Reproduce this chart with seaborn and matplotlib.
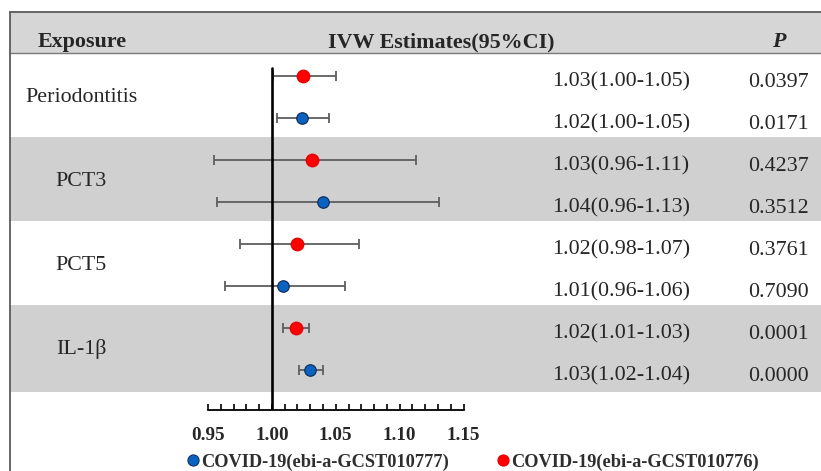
import numpy as np
import pandas as pd
import matplotlib
matplotlib.use("Agg")
import matplotlib.pyplot as plt
from matplotlib.lines import Line2D
from matplotlib.patches import Rectangle
from matplotlib.transforms import blended_transform_factory
import seaborn as sns

# --- data ---
exposures = ["Periodontitis", "PCT3", "PCT5", "IL-1β"]
outcomes = ["COVID-19(ebi-a-GCST010776)", "COVID-19(ebi-a-GCST010777)"]

# red series (GCST010776)
est_776 = [1.024, 1.031, 1.020, 1.019]
lo_776 = [1.001, 0.955, 0.975, 1.009]
hi_776 = [1.050, 1.113, 1.068, 1.029]
ci_776 = ["1.03(1.00-1.05)", "1.03(0.96-1.11)", "1.02(0.98-1.07)", "1.02(1.01-1.03)"]
p_776 = ["0.0397", "0.4237", "0.3761", "0.0001"]

# blue series (GCST010777)
est_777 = [1.0235, 1.040, 1.0086, 1.030]
lo_777 = [1.004, 0.957, 0.963, 1.021]
hi_777 = [1.045, 1.131, 1.057, 1.040]
ci_777 = ["1.02(1.00-1.05)", "1.04(0.96-1.13)", "1.01(0.96-1.06)", "1.03(1.02-1.04)"]
p_777 = ["0.0171", "0.3512", "0.7090", "0.0000"]

xticks = [0.95, 1.00, 1.05, 1.10, 1.15]

# long table, one row per estimate (red above blue inside each exposure)
rows = []
for g, name in enumerate(exposures):
    rows.append(dict(exposure=name, outcome=outcomes[0], est=est_776[g], lo=lo_776[g],
                     hi=hi_776[g], ci=ci_776[g], p=p_776[g], row=2 * g))
    rows.append(dict(exposure=name, outcome=outcomes[1], est=est_777[g], lo=lo_777[g],
                     hi=hi_777[g], ci=ci_777[g], p=p_777[g], row=2 * g + 1))
df = pd.DataFrame(rows)

colors = {outcomes[0]: "#ff0000", outcomes[1]: "#0b63c1"}
edges = {outcomes[0]: "#e60000", outcomes[1]: "#10305e"}
sizes = {outcomes[0]: 82, outcomes[1]: 68}

sns.set_style("white")
plt.rcParams["font.family"] = ["Liberation Serif", "DejaVu Serif"]

W, H = 821, 471
fig = plt.figure(figsize=(W / 100, H / 100), dpi=100)

# forest axes: 0.95..1.15 on x, rows on y (42 px per row)
row_px, top_px, axis_px = 42, 76, 410
ax = fig.add_axes([208 / W, (H - axis_px) / H, 255.6 / W, (axis_px - 53) / H])
ax.set_xlim(0.95, 1.15)
ax.set_ylim((axis_px - top_px) / row_px, (53 - top_px) / row_px)
ax.patch.set_visible(False)

def px_row(y):
    return (y - top_px) / row_px

trans = blended_transform_factory(fig.transFigure, ax.transData)

# header band + exposure bands
ax.add_patch(Rectangle((10 / W, px_row(12)), 1, px_row(53) - px_row(12), transform=trans,
                       facecolor="#d6d6d6", edgecolor="none", clip_on=False, zorder=0))
for g in range(len(exposures)):
    if g % 2 == 1:
        ax.add_patch(Rectangle((10 / W, 2 * g - 0.548), 1, 2.0 + (0.07 if g == 3 else 0),
                               transform=trans, facecolor="#d1d0d1", edgecolor="none",
                               clip_on=False, zorder=0))
for y, c, lw in [(12, "#5a5a5a", 1.3), (53, "#7a7a7a", 1.0)]:
    ax.add_line(Line2D([10 / W, 1], [px_row(y), px_row(y)], transform=trans, color=c,
                       lw=lw, clip_on=False, zorder=1))
fig.add_artist(Line2D([10 / W, 10 / W], [0, 1 - 12 / H], transform=fig.transFigure,
                      color="#5a5a5a", lw=1.3))

# reference line at 1
ax.axvline(1.0, ymin=0, ymax=(axis_px - 68) / (axis_px - 53), color="black", lw=1.9, zorder=2.5)

# error bars and points
for out in [outcomes[0], outcomes[1]]:
    sub = df[df["outcome"] == out]
    ax.errorbar(sub["est"], sub["row"], xerr=[sub["est"] - sub["lo"], sub["hi"] - sub["est"]],
                fmt="none", ecolor="#5e5e5e", elinewidth=1.3, capsize=3.3, capthick=1.3, zorder=2)
    sns.scatterplot(data=sub, x="est", y="row", color=colors[out], edgecolor=edges[out],
                    linewidth=0.9, s=sizes[out], ax=ax, zorder=3, legend=False)

ax.set_xlabel("")
ax.set_ylabel("")
ax.set_yticks([])
ax.set_xticks(xticks)
ax.set_xticks(np.arange(0.95, 1.1501, 0.01), minor=True)
ax.set_xticklabels([f"{t:.2f}" for t in xticks], fontsize=13.8, fontweight="bold")
ax.tick_params(axis="x", which="both", bottom=True, direction="in", length=4, width=1.2,
               color="black", pad=12)
for s in ["left", "top", "right"]:
    ax.spines[s].set_visible(False)
ax.spines["bottom"].set_linewidth(1.3)
ax.spines["bottom"].set_color("black")

# table text
fs = 15.8
hdr_y = px_row(42)
ax.text(82 / W, hdr_y, "Exposure", transform=trans, ha="center", va="center",
        fontsize=fs, fontweight="bold")
ax.text(441 / W, hdr_y, "IVW Estimates(95%CI)", transform=trans, ha="center", va="center",
        fontsize=fs, fontweight="bold")
ax.text(779 / W, hdr_y, "P", transform=trans, ha="center", va="center",
        fontsize=fs, fontweight="bold", fontstyle="italic")
for g, name in enumerate(exposures):
    ax.text(81 / W, 2 * g + 0.5, name, transform=trans, ha="center", va="center", fontsize=fs)
for _, r in df.iterrows():
    ax.text(621 / W, r["row"] + 0.15, r["ci"], transform=trans, ha="center", va="center", fontsize=fs)
    ax.text(778 / W, r["row"] + 0.15, r["p"], transform=trans, ha="center", va="center", fontsize=fs)

# legend
handles = [Line2D([], [], marker="o", ls="none", markersize=8, markerfacecolor=colors[o],
                  markeredgecolor=edges[o], markeredgewidth=0.8) for o in [outcomes[1], outcomes[0]]]
leg = fig.legend(handles, [outcomes[1], outcomes[0]], loc="center", ncol=2,
                 bbox_to_anchor=(473 / W, 1 - 462 / H), frameon=False, handlelength=0.7,
                 handletextpad=0.1, columnspacing=2.6, borderpad=0,
                 prop={"size": 13.2, "weight": "bold"})
for t in leg.get_texts():
    t.set_color("#2e2e2e")

fig.savefig("out.png", dpi=100)
